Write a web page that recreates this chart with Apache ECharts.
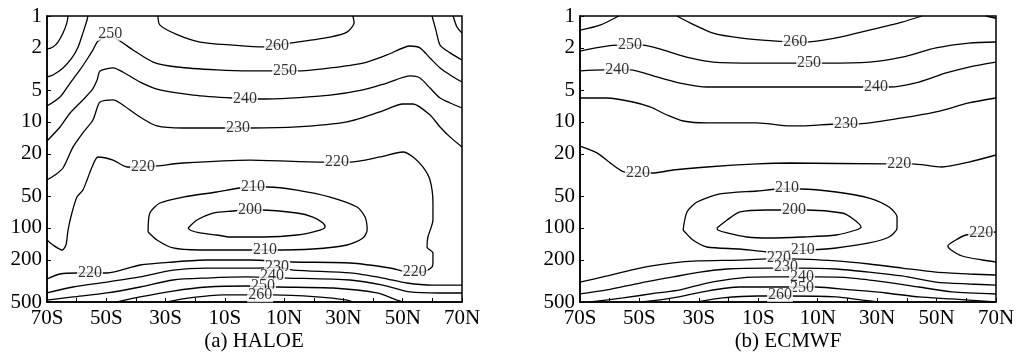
<!DOCTYPE html>
<html><head><meta charset="utf-8">
<script src="https://cdn.jsdelivr.net/npm/echarts@6/dist/echarts.min.js"></script>
<style>html,body{margin:0;padding:0;background:#fff}#c{width:1019px;height:357px}</style>
</head><body><div id="c"></div>
<script>
// ---- axes ----
const latTicks = [-70,-60,-50,-40,-30,-20,-10,0,10,20,30,40,50,60,70];
const latLabels = [-70,-50,-30,-10,10,30,50,70];
const pressureTicks = [1,2,5,10,20,50,100,200,500];
const panelTitles = ['(a) HALOE','(b) ECMWF'];

// ---- (a) HALOE contours: [latitude, pressure hPa] ----
const hTopLeft1 = [[-62.9,1],[-63.3,1.16],[-64.6,1.45],[-66.3,1.76],[-68.0,1.96],[-70,2.05]];
const hTopLeft2 = [[-56.2,1],[-56.5,1.09],[-57.9,1.45],[-59.5,1.96],[-61.6,2.49],[-64.6,3.09],[-68.0,3.6],[-70,3.76]];
const hTopRight1 = [[67.0,1],[68.3,1.27],[70,1.45]];
const hTopRight2 = [[59.9,1],[61.2,1.36],[62.6,1.88],[66.0,2.23],[70,2.6]];
const h260top = [[-32.6,1],[-31.9,1.22],[-26.1,1.5],[-18.4,1.76],[-7.3,1.88],[2.9,1.96],[12.0,1.8],[25.5,1.58],[31.2,1.42],[33.6,1.16],[33.2,1]];
const h250 = [[-70,7.07],[-65.6,5.81],[-62.2,4.29],[-58.9,3.23],[-56.2,2.49],[-54.5,2.09],[-53.1,1.76],[-52.1,1.68],[-49.4,1.55],[-46.0,1.68],[-41.0,2.09],[-34.2,2.72],[-26.1,3.03],[-12.7,3.23],[-1.5,3.3],[14.3,3.3],[25.5,3.09],[36.6,2.78],[44.7,2.33],[52.5,1.92],[55.8,2.0],[59.2,2.49],[62.6,3.09],[66.0,3.6],[70,4.2]];
const h240 = [[-70,15.1],[-65.6,11.15],[-62.2,8.23],[-57.9,6.2],[-54.8,4.99],[-53.1,4.02],[-52.1,3.3],[-47.7,3.09],[-44.4,3.38],[-38.6,4.2],[-31.9,4.99],[-20.7,5.57],[-7.3,5.94],[1.9,6.07],[25.5,5.57],[36.6,4.99],[44.7,4.29],[52.5,3.68],[55.8,3.85],[59.2,4.78],[62.6,5.94],[66.0,6.62],[70,7.38]];
const h230 = [[-70,35.3],[-67.3,31.7],[-64.6,27.2],[-61.2,17.2],[-57.9,12.7],[-54.5,9.58],[-53.1,7.38],[-52.1,6.48],[-47.7,6.2],[-45.4,6.62],[-38.6,8.98],[-32.9,10.9],[-24.1,11.4],[-9.3,11.4],[-1.5,11.4],[14.3,11.15],[31.2,10.0],[42.3,8.05],[50.1,6.77],[53.5,6.77],[59.2,8.6],[62.6,11.15],[66.0,13.9],[70,17.2]];
const h220 = [[-70,130],[-68.0,145],[-64.9,161.5],[-63.6,145],[-62.9,104.6],[-61.6,72.3],[-59.9,51.1],[-57.9,43.9],[-56.5,35.3],[-54.8,26.6],[-52.8,21.4],[-47.7,22.9],[-43.0,26.6],[-37.6,26.6],[-32.9,26.0],[-24.1,24.4],[-1.5,22.9],[23.1,23.9],[32.2,23.9],[42.3,21.4],[50.1,19.2],[53.5,21.4],[56.8,26.6],[59.2,35.3],[60.2,58.2],[60.2,84.2],[58.5,121.8],[58.2,151.3],[60.2,172.4],[60.2,209.6],[59.9,233.7],[56.8,260.5],[51.8,260.5],[45.7,238.8],[32.2,214.2],[13.0,209.6],[-1.5,200.7],[-16.0,200.7],[-27.5,209.6],[-38.6,223.7],[-49.8,266.2],[-59.9,266.2],[-65.6,272.1],[-70,303.3]];
const h210 = [[-35.9,109.2],[-35.3,72.3],[-31.9,58.2],[-24.1,51.1],[-12.7,45.8],[-4.9,42.0],[0.2,41.1],[4.6,41.1],[14.3,43.9],[25.5,51.1],[34.6,63.5],[37.3,78.9],[38.0,104.6],[36.6,124.5],[31.2,144.9],[19.7,158.0],[5.2,161.5],[-1.5,161.5],[-18.4,161.5],[-27.5,154.6],[-32.9,130],[-35.9,109.2]];
const h200 = [[-22.4,100.1],[-19.4,84.2],[-14.0,72.3],[-7.3,69.2],[-3.2,67.7],[1.9,67.7],[14.3,72.3],[19.7,78.9],[23.1,89.8],[23.8,98.0],[22.1,104.6],[14.3,116.6],[2.9,121.8],[-8.3,121.8],[-12.7,116.6],[-18.4,111.6],[-21.8,104.6],[-22.4,100.1]];
const h230low = [[-70,411],[-61.2,361],[-49.8,324],[-38.6,290],[-27.5,250],[-16.0,239],[0.8,239],[7.9,234],[13.0,250],[32.2,266],[43.3,297],[51.4,331],[60.2,346],[70,346]];
const h240low = [[-70,479],[-61.2,448],[-49.8,411],[-38.6,361],[-27.5,310],[-16.0,297],[-2.5,290],[11.0,297],[32.2,310],[43.3,346],[52.5,402],[62.6,411],[70,411]];
const h250low = [[-46.4,500],[-38.6,448],[-27.5,394],[-16.0,361],[-2.5,353],[7.6,361],[26.5,369],[41.3,411],[48.1,479],[50.1,500]];
const h260low = [[-29.5,500],[-21.8,458],[-10.6,429],[-2.5,429],[6.2,429],[21.1,448],[31.2,479],[33.2,500]];
// labels: [latitude, pressure, text]
const hLabels = [[7.6,1.92,'260'],[-48.7,1.47,'250'],[10.3,3.3,'250'],[-3.2,6.07,'240'],[-5.6,11.4,'230'],
  [-37.6,26.6,'220'],[27.8,23.9,'220'],[-55.5,266,'220'],[54.1,262,'220'],
  [-0.5,41.1,'210'],[3.5,161.5,'210'],[-1.5,67.7,'200'],
  [7.6,232,'230'],[5.9,284,'240'],[2.9,348,'250'],[1.9,432,'260']];

// ---- (b) ECMWF contours ----
const eTopLeft = [[-70,1.36],[-63.3,1.22],[-56.9,1]];
const eTopRight = [[66.6,1],[70,1.05]];
const e260 = [[-37.4,1],[-33.0,1.16],[-25.2,1.45],[-16.2,1.61],[-5.0,1.72],[2.4,1.76],[6.4,1.76],[16.2,1.61],[27.3,1.36],[38.4,1.14],[45.1,1]];
const e250 = [[-70,2.14],[-57.2,1.88],[-48.8,1.88],[-42.1,2.09],[-33.0,2.49],[-25.2,2.72],[-10.4,2.78],[0.7,2.78],[12.1,2.78],[27.3,2.72],[38.4,2.44],[49.8,2.0],[60.9,1.8],[70,1.76]];
const e240 = [[-70,3.3],[-62.3,3.23],[-53.2,3.23],[-44.1,3.76],[-36.3,4.29],[-27.3,4.68],[-10.4,4.68],[24.9,4.68],[34.0,4.68],[44.1,4.2],[53.2,3.45],[60.9,3.03],[70,2.72]];
const e230 = [[-70,5.94],[-60.9,5.94],[-52.2,6.48],[-46.4,7.22],[-40.7,8.6],[-35.3,9.79],[-27.3,10.2],[-10.4,10.2],[0.7,10.9],[4.7,10.9],[17.2,10.45],[22.9,10.45],[38.4,9.17],[49.8,8.05],[60.9,6.62],[70,5.94]];
const e220 = [[-70,16.9],[-64.3,19.6],[-58.9,25.5],[-54.9,29.7],[-45.4,30.3],[-38.7,28.4],[-27.3,26.6],[-10.4,24.9],[0.7,24.4],[33.0,24.9],[41.7,24.9],[51.8,26.6],[60.9,23.9],[70,20.5]];
const e210 = [[-35.3,104.6],[-34.0,70.7],[-30.6,56.9],[-22.9,47.8],[-10.4,44.8],[-2.7,42.9],[4.4,42.9],[16.2,45.8],[27.3,52.2],[34.0,63.5],[36.7,78.9],[36.7,100.1],[34.0,121.8],[27.3,138.7],[16.2,154.6],[7.1,161.5],[-6.4,168.7],[-16.2,158.0],[-27.3,151.3],[-32.0,130],[-34.7,109.2],[-35.3,104.6]];
const e200 = [[-23.9,100.1],[-20.5,84.2],[-16.2,70.7],[-7.1,67.7],[6.4,67.7],[18.2,72.3],[21.5,80.6],[24.6,98.0],[22.9,104.6],[16.2,116.6],[4.7,121.8],[-6.4,124.5],[-13.8,121.8],[-20.5,111.6],[-23.6,104.6],[-23.9,100.1]];
const e220right = [[70,109.2],[59.9,116.6],[56.5,130],[53.8,148],[54.9,161.5],[58.6,184],[65.3,200.7],[70,209.6]];
const e220low = [[-70,324],[-60.9,284],[-49.8,239],[-38.7,214],[-30.6,205],[-16.2,201],[-7.1,196],[1.3,196],[16.2,205],[27.3,219],[38.4,239],[49.8,261],[60.9,272],[70,278]];
const e230low = [[-70,420],[-60.9,385],[-49.8,331],[-38.7,290],[-29.6,261],[-20.5,244],[-7.1,239],[3.7,239],[16.2,244],[27.3,261],[38.4,284],[49.8,324],[60.9,338],[70,346]];
const e240low = [[-66.6,500],[-55.5,458],[-44.1,411],[-36.3,385],[-27.3,331],[-16.2,297],[-5.0,290],[9.4,290],[21.5,297],[33.0,324],[44.1,361],[55.2,402],[70,420]];
const e250low = [[-48.8,500],[-38.7,458],[-27.3,394],[-16.2,361],[-5.0,361],[9.4,361],[21.5,385],[33.0,411],[44.1,448],[55.2,468],[70,500]];
const e260low = [[-30.6,500],[-21.9,458],[-10.4,439],[0.3,439],[16.2,448],[24.9,479],[30.6,500]];
const eLabels = [[2.4,1.76,'260'],[-53.2,1.88,'250'],[7.1,2.78,'250'],[-57.5,3.23,'240'],[29.6,4.68,'240'],
  [19.5,10.45,'230'],[-50.5,30.3,'220'],[37.4,24.9,'220'],[65.0,111.6,'220'],
  [-0.3,42.0,'210'],[5.0,161.5,'210'],[2.0,67.7,'200'],
  [-3.0,190,'220'],[-0.7,234,'230'],[4.7,290,'240'],[4.7,369,'250'],[-2.7,429,'260']];

const haloeLines = [hTopLeft1,hTopLeft2,hTopRight1,hTopRight2,h260top,h250,h240,h230,h220,h210,h200,h230low,h240low,h250low,h260low];
const ecmwfLines = [eTopLeft,eTopRight,e260,e250,e240,e230,e220,e210,e200,e220right,e220low,e230low,e240low,e250low,e260low];

const lg = p => Math.log10(p);
const serif = '"Liberation Serif","DejaVu Serif",serif';

function lineSeries(pts, idx) {
  return {type:'line', xAxisIndex:idx, yAxisIndex:idx, data: pts.map(d => [d[0], lg(d[1])]),
    showSymbol:false, symbol:'none', smooth:0.25, silent:true, animation:false, z:2,
    lineStyle:{color:'#000', width:1.3}};
}
function labelSeries(lbls, idx) {
  return {type:'scatter', xAxisIndex:idx, yAxisIndex:idx, symbol:'circle', symbolSize:1, silent:true, animation:false, z:5,
    itemStyle:{color:'rgba(0,0,0,0)'},
    data: lbls.map(d => ({value:[d[0], lg(d[1])], name:d[2]})),
    label:{show:true, position:'inside', formatter: p => p.name, color:'#000', fontFamily:serif, fontSize:16,
      backgroundColor:'#fff', padding:[0,1], lineHeight:14}};
}

const grids = [{left:47, top:16, width:415, height:286}, {left:580, top:16, width:416, height:286}];
function xAx(i){return {type:'value', gridIndex:i, min:-70, max:70,
  axisLine:{show:true, onZero:false, lineStyle:{color:'#000', width:1.5}},
  axisTick:{show:true, inside:true, length:4, customValues:latTicks, lineStyle:{color:'#000', width:1}},
  axisLabel:{customValues:latLabels, margin:6, color:'#000', fontFamily:serif, fontSize:21,
    formatter: v => v < 0 ? (-v)+'S' : (v > 0 ? v+'N' : '0')},
  splitLine:{show:false}};}
function yAx(i){return {type:'value', gridIndex:i, inverse:true, min:0, max:lg(500),
  axisLine:{show:true, onZero:false, lineStyle:{color:'#000', width:1.5}},
  axisTick:{show:true, inside:true, length:4, customValues:pressureTicks.map(lg), lineStyle:{color:'#000', width:1}},
  axisLabel:{customValues:pressureTicks.map(lg), margin:5, color:'#000', fontFamily:serif, fontSize:21,
    formatter: v => String(Math.round(Math.pow(10, v)))},
  splitLine:{show:false}};}

const series = [];
haloeLines.forEach(l => series.push(lineSeries(l, 0)));
ecmwfLines.forEach(l => series.push(lineSeries(l, 1)));
series.push(labelSeries(hLabels, 0));
series.push(labelSeries(eLabels, 1));

const chart = echarts.init(document.getElementById('c'), null, {renderer:'canvas'});
chart.setOption({
  backgroundColor:'#fff',
  animation:false,
  grid: grids.map(g => Object.assign({show:true, borderColor:'#000', borderWidth:1.5, backgroundColor:'#fff'}, g)),
  xAxis:[xAx(0), xAx(1)],
  yAxis:[yAx(0), yAx(1)],
  graphic: [
    {type:'text', x:254, y:341, style:{text:panelTitles[0], textAlign:'center', textVerticalAlign:'middle', fontSize:21, fontFamily:serif, fill:'#000'}},
    {type:'text', x:788, y:341, style:{text:panelTitles[1], textAlign:'center', textVerticalAlign:'middle', fontSize:21, fontFamily:serif, fill:'#000'}}
  ],
  series: series
});
</script>
</body></html>
